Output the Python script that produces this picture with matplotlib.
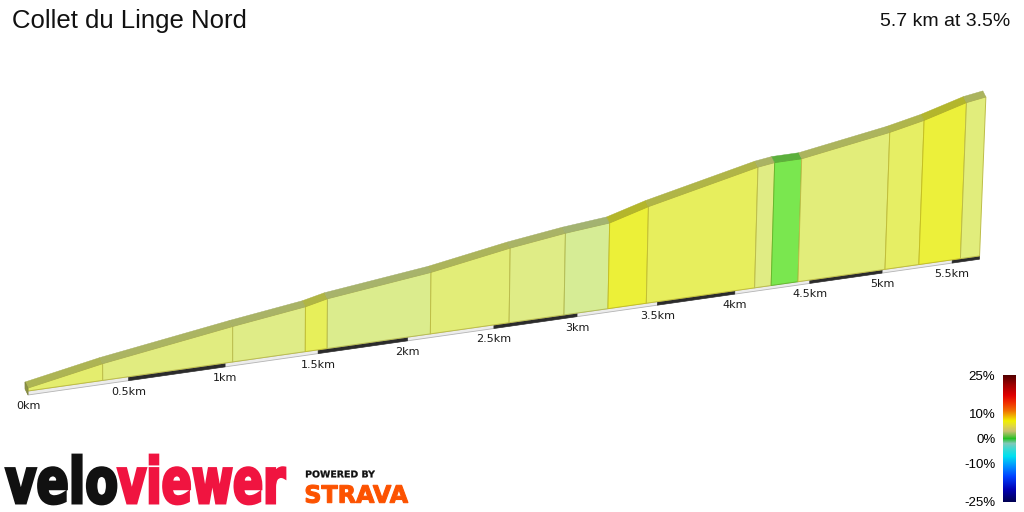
import numpy as np
import matplotlib
matplotlib.use('Agg')
import matplotlib.pyplot as plt
from matplotlib.patches import Polygon, PathPatch
from matplotlib.textpath import TextPath
from matplotlib.font_manager import FontProperties
from matplotlib.transforms import Affine2D
from matplotlib.colors import LinearSegmentedColormap, Normalize
from matplotlib.cm import ScalarMappable

title = 'Collet du Linge Nord'
summary = '5.7 km at 3.5%'

# distance (km) where the gradient changes, and height gained there (m)
seg_km = [0.0, 0.37, 1.04, 1.43, 1.55, 2.13, 2.59, 2.92, 3.19, 3.43,
          4.13, 4.24, 4.42, 5.02, 5.26, 5.56, 5.7]
seg_gain = [3, 17, 37, 47.5, 52.9, 66.8, 82.4, 91.3, 96.7, 109.9,
            140.7, 143.8, 144.7, 164.5, 174.6, 190.8, 195.3]

tick_km = [0, 0.5, 1, 1.5, 2, 2.5, 3, 3.5, 4, 4.5, 5, 5.5]
tick_labels = ['0km', '0.5km', '1km', '1.5km', '2km', '2.5km', '3km',
               '3.5km', '4km', '4.5km', '5km', '5.5km']
cbar_ticks = [-25, -10, 0, 10, 25]

# view of the 3d ribbon (pixels)
X0, Y0 = 28, 391
KM_PX = 205.0      # along the road
RISE_PX = 29.1     # baseline climbing into the distance
PERSP = 0.04       # perspective shrink per km
M_PX = 1.0         # pixels per metre
LEAN = 5.3e-5      # verticals lean a bit on the right
DEPTH = (-3.0, -6.0)
BASE = 4.0

# gradient colours (%), colour scale on the right and lit faces
bar_stops = [(-25, '#000050'), (-20, '#0000b4'), (-15, '#0040ff'), (-11, '#0090ff'),
             (-7, '#00e0f0'), (-4, '#40d8d0'), (-2, '#80c8b8'), (0, '#20c020'),
             (1, '#60c040'), (3, '#c8c070'), (5, '#e0d840'), (7, '#f0f000'),
             (9, '#f0b000'), (11, '#f07000'), (14, '#f03000'), (17, '#e00000'),
             (21, '#a00000'), (25, '#500000')]
face_stops = [(0.0, '#6ee44c'), (0.6, '#7ce850'), (1.5, '#cfeb9c'), (2.2, '#d9ec92'),
              (2.8, '#e0ec84'), (3.4, '#e2ed78'), (4.2, '#e6ee64'), (4.8, '#e9ef50'),
              (5.4, '#ecf03a'), (7.0, '#f0f020')]


def project(d, h, depth=0.0):
    d = np.asarray(d, float)
    h = np.asarray(h, float)
    depth = np.asarray(depth, float)
    w = 1 + PERSP * d
    xb = X0 + KM_PX * d / w
    hp = M_PX * h / w
    x = xb + LEAN * (xb - 230) * hp + DEPTH[0] * depth
    y = Y0 - RISE_PX * d / w - hp + DEPTH[1] * depth
    return np.column_stack([x * np.ones_like(y), y])


def face_colour(grad):
    g = [s[0] for s in face_stops]
    rgb = np.array([matplotlib.colors.to_rgb(s[1]) for s in face_stops])
    return np.array([np.interp(grad, g, rgb[:, k]) for k in range(3)])


fig = plt.figure(figsize=(10.24, 5.12), dpi=100)
ax = fig.add_axes([0, 0, 1, 1])
ax.set_xlim(0, 1024)
ax.set_ylim(512, 0)
ax.axis('off')

# base strip with the half-km marks
end = seg_km[-1]
ax.add_patch(Polygon(project([0, end, end, 0], [0, 0, -BASE, -BASE]),
                     fc='#ececec', ec='#b4b4b4', lw=0.6, zorder=2))
for i, k in enumerate(tick_km):
    if i % 2 == 1:
        k1 = min(k + 0.5, end)
        ax.add_patch(Polygon(project([k, k1, k1, k], [-0.5, -0.5, -BASE, -BASE]),
                             fc='#2b2b2b', ec='#2b2b2b', lw=0.4, zorder=3))

# front faces and top of the ribbon
edge_tint = np.array([0.84, 0.80, 0.58])
for i in range(len(seg_km) - 1):
    d0, d1 = seg_km[i], seg_km[i + 1]
    g0, g1 = seg_gain[i], seg_gain[i + 1]
    grad = (g1 - g0) / ((d1 - d0) * 10)
    c = face_colour(grad)
    ax.add_patch(Polygon(project([d0, d1, d1, d0], [0, 0, g1, g0]),
                         fc=c, ec=c * edge_tint, lw=0.7, zorder=4))
    top = np.vstack([project([d0, d1], [g0, g1]),
                     project([d1, d0], [g1, g0], 1.0)])
    ax.add_patch(Polygon(top, fc=c * 0.76, ec=c * 0.72, lw=0.3, zorder=5))
    if i == 0:
        cap = project([0, 0, 0, 0], [-BASE, g0, g0, -BASE], [0, 0, 1, 1])
        ax.add_patch(Polygon(cap, fc=c * 0.62, ec=c * 0.55, lw=0.5, zorder=5))

for k, lab in zip(tick_km, tick_labels):
    x, y = project(k, -BASE)[0]
    ax.text(x, y + 11, lab, ha='center', va='center', fontsize=8,
            family='DejaVu Sans', color='#1a1a1a')

ax.text(12, 28, title, fontsize=18.5, family='Liberation Sans', ha='left',
        va='baseline', color='#111111')
ax.text(1010, 26.5, summary, fontsize=14, family='Liberation Sans', ha='right',
        va='baseline', color='#111111')

# colour scale
bar_cmap = LinearSegmentedColormap.from_list(
    'grad', [((v + 25) / 50, c) for v, c in bar_stops])
cax = fig.add_axes([1003 / 1024, 1 - 502 / 512, 13 / 1024, 127 / 512])
cb = fig.colorbar(ScalarMappable(norm=Normalize(-25, 25), cmap=bar_cmap),
                  cax=cax, ticks=cbar_ticks)
cb.outline.set_visible(False)
cax.yaxis.set_ticks_position('left')
cax.set_yticklabels([f'{t}%' for t in cbar_ticks])
cax.tick_params(length=0, pad=5.5, labelsize=9.5)
for lab in cax.get_yticklabels():
    lab.set_family('Liberation Sans')


# logos
def logo_word(text, color, box, lw=1.2, size=10):
    x0, x1, ytop, ybot = box
    tp = TextPath((0, 0), text, size=size,
                  prop=FontProperties(family='DejaVu Sans', weight='bold'))
    ext = tp.get_extents()
    tr = (Affine2D().translate(-ext.x0, -ext.y0)
          .scale((x1 - x0) / ext.width, -(ybot - ytop) / ext.height)
          .translate(x0, ybot))
    ax.add_patch(PathPatch(tr.transform_path(tp), fc=color, ec=color, lw=lw))


logo_word('velo', '#111111', (6, 116, 455, 504), lw=2.0)
logo_word('viewer', '#f01440', (118, 285, 455, 504), lw=2.0)
logo_word('POWERED BY', '#111111', (306, 375, 470.5, 477.5), lw=0.2)
logo_word('STRAVA', '#fc5200', (306, 408, 485, 503), lw=0.8)

fig.savefig('out.png', dpi=100)
